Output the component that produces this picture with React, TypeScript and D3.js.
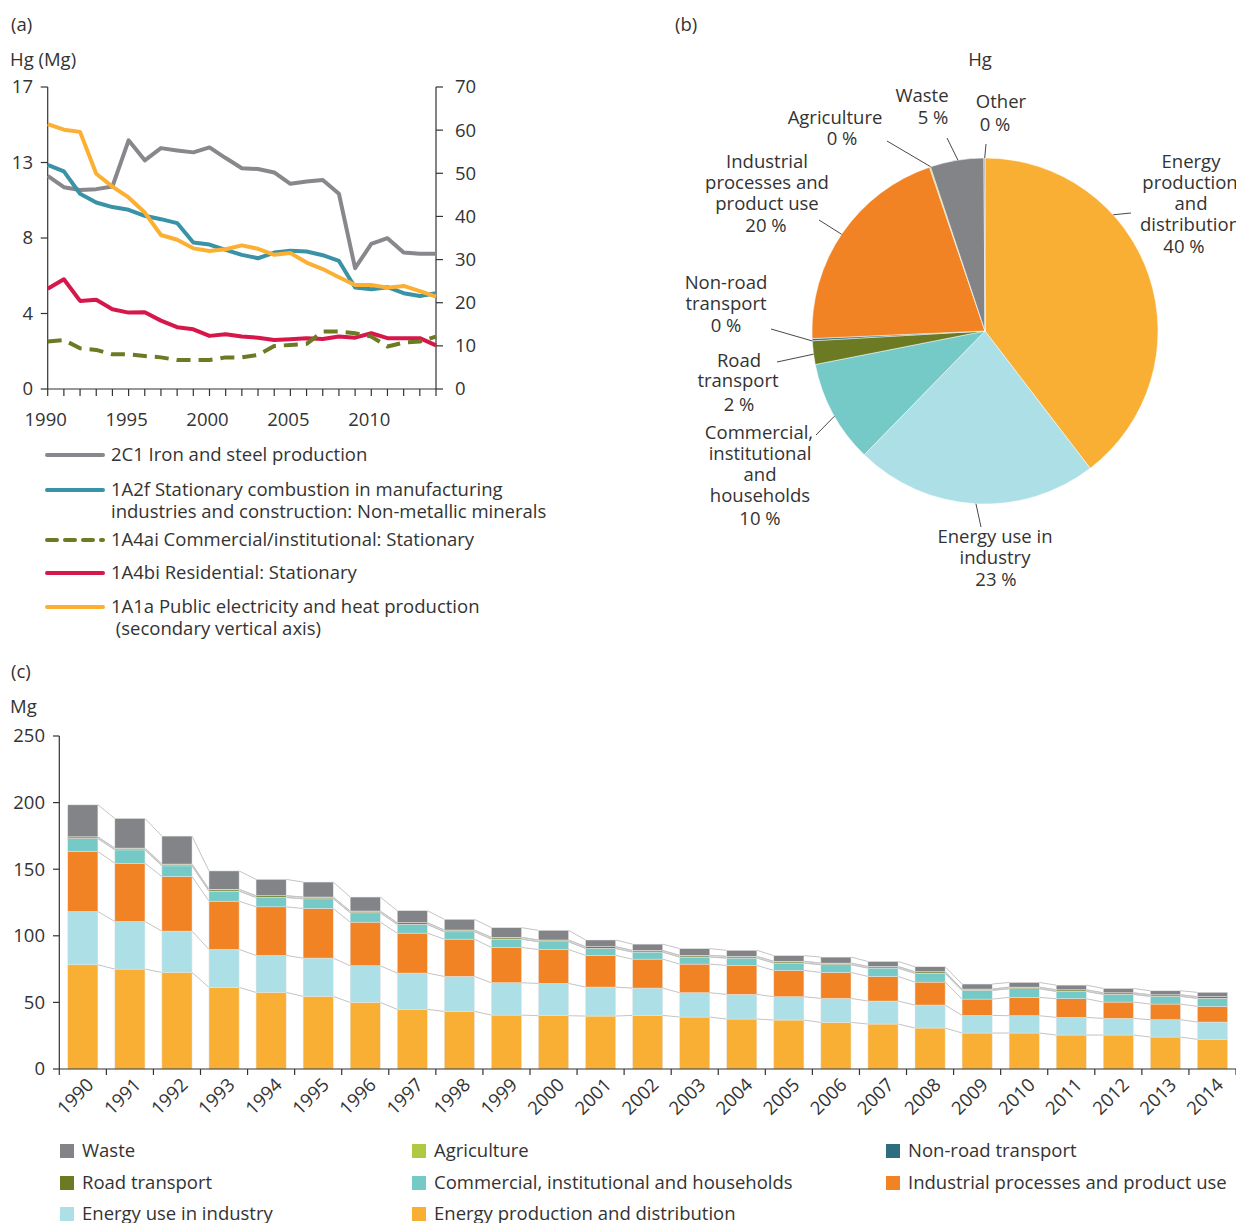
import React from 'react';
import * as d3 from 'd3';

// ---------- Panel (a) data ----------
const years = [1990, 1991, 1992, 1993, 1994, 1995, 1996, 1997, 1998, 1999, 2000, 2001, 2002, 2003, 2004, 2005, 2006, 2007, 2008, 2009, 2010, 2011, 2012, 2013, 2014];
const ironSteel = [12.0, 11.36, 11.2, 11.25, 11.4, 14.0, 12.87, 13.56, 13.43, 13.32, 13.6, 13.0, 12.43, 12.38, 12.19, 11.55, 11.68, 11.76, 10.99, 6.8, 8.17, 8.49, 7.68, 7.61, 7.61];
const nonMetallic = [12.62, 12.25, 10.99, 10.5, 10.24, 10.09, 9.75, 9.56, 9.34, 8.25, 8.13, 7.83, 7.55, 7.36, 7.68, 7.78, 7.74, 7.53, 7.21, 5.71, 5.62, 5.73, 5.39, 5.24, 5.39];
const commercialInst = [2.67, 2.76, 2.29, 2.2, 1.95, 1.95, 1.86, 1.78, 1.63, 1.63, 1.63, 1.78, 1.78, 1.92, 2.42, 2.48, 2.54, 3.23, 3.23, 3.14, 2.95, 2.39, 2.61, 2.67, 2.95];
const residential = [5.64, 6.18, 4.96, 5.02, 4.49, 4.3, 4.32, 3.85, 3.48, 3.36, 2.99, 3.08, 2.95, 2.89, 2.76, 2.8, 2.86, 2.82, 2.95, 2.89, 3.14, 2.86, 2.86, 2.86, 2.46];
const publicElec = [61.4, 60.1, 59.6, 49.9, 46.9, 44.4, 40.9, 35.7, 34.6, 32.6, 32.0, 32.4, 33.3, 32.5, 31.1, 31.5, 29.3, 27.8, 25.9, 24.1, 24.1, 23.5, 23.9, 22.7, 21.4];
const leftTicks = [0, 4.25, 8.5, 12.75, 17];
const leftTickLabels = ['0', '4', '8', '13', '17'];
const rightTicks = [0, 10, 20, 30, 40, 50, 60, 70];
const yearLabelsA = [1990, 1995, 2000, 2005, 2010];

// ---------- Panel (b) data ----------
const pieNames = ['Energy production and distribution', 'Energy use in industry', 'Commercial, institutional and households', 'Road transport', 'Non-road transport', 'Industrial processes and product use', 'Agriculture', 'Waste', 'Other'];
const pieValues = [39.6, 22.7, 9.6, 2.2, 0.2, 20.5, 0.1, 5.0, 0.1];

// ---------- Panel (c) data ----------
const energyProd = [78.25, 75, 72.5, 61.25, 57.5, 54.5, 50, 44.75, 43.25, 40.5, 40, 39.75, 40.25, 39, 37.5, 36.75, 35, 33.75, 30.75, 27, 27, 25.5, 25.5, 24, 22.25];
const energyUse = [40, 35.75, 31, 28.5, 27.75, 28.75, 27.5, 27.25, 26.25, 24.25, 24.25, 21.75, 20.5, 18.25, 18.5, 17.5, 18, 17.25, 17.25, 13.25, 13, 13.25, 12.5, 13, 13];
const industrialProc = [45, 43.75, 41, 36.25, 36.5, 37.25, 32.75, 30, 28, 26.5, 25.5, 23.75, 21.75, 21.5, 21.75, 19.75, 19.5, 18.5, 17.25, 12.25, 13.75, 14, 12.25, 11.75, 11.75];
const commercialHH = [9.7, 10, 8, 7.5, 7, 7.25, 7, 6.5, 5.5, 6.25, 5.75, 5.25, 5.25, 5.25, 5.5, 5.5, 5.75, 6.25, 6.5, 6.5, 6.5, 5.5, 5.75, 5.75, 6];
const nonRoad = [0.15, 0.15, 0.15, 0.15, 0.15, 0.15, 0.15, 0.15, 0.15, 0.15, 0.15, 0.15, 0.15, 0.15, 0.15, 0.15, 0.15, 0.15, 0.15, 0.12, 0.12, 0.12, 0.12, 0.12, 0.12];
const roadTransport = [1.1, 1.1, 1.1, 1.2, 1.1, 1.1, 1.1, 1.1, 1.1, 1.1, 1.1, 1.1, 1.0, 1.1, 1.1, 1.1, 1.0, 1.0, 1.0, 0.8, 1.0, 1.0, 1.0, 1.0, 1.1];
const agriculture = [0.1, 0.1, 0.1, 0.1, 0.1, 0.1, 0.1, 0.1, 0.1, 0.1, 0.1, 0.1, 0.1, 0.1, 0.1, 0.1, 0.1, 0.1, 0.1, 0.1, 0.1, 0.1, 0.1, 0.1, 0.1];
const waste = [24, 22.25, 21, 13.75, 12.25, 11.25, 10.5, 9, 8, 7.25, 7.25, 5, 4.75, 5, 4.5, 4.25, 4.5, 3.75, 3.75, 3.75, 3.5, 3.5, 3.25, 3, 3.25];
const barTicks = [0, 50, 100, 150, 200, 250];

const C = {
  energyProd: '#F9AF34',
  energyUse: '#ADDFE7',
  industrial: '#F28325',
  commercial: '#75C9C6',
  nonRoad: '#2C6E80',
  road: '#6B7A23',
  agriculture: '#B0C943',
  waste: '#838488',
  other: '#9a9a9a',
};

const FONT = '"Open Sans", "Noto Sans", sans-serif';
const TXT = '#333';
const FS = 18.5;

export default function App() {
  // ===== Panel (a) =====
  const xA = d3.scaleLinear().domain([1990, 2014]).range([47.7, 436]);
  const yL = d3.scaleLinear().domain([0, 17]).range([389, 87]);
  const yR = d3.scaleLinear().domain([0, 70]).range([389, 87]);
  const mkLine = (vals: number[], ys: d3.ScaleLinear<number, number>) =>
    d3.line<number>().x((_, i) => xA(years[i])).y((v) => ys(v))(vals) || '';

  const seriesA = [
    { vals: ironSteel, color: '#88888C', scale: yL, dash: undefined },
    { vals: nonMetallic, color: '#3A92A7', scale: yL, dash: undefined },
    { vals: publicElec, color: '#FBB034', scale: yR, dash: undefined },
    { vals: residential, color: '#D6174A', scale: yL, dash: undefined },
    { vals: commercialInst, color: '#6B7A23', scale: yL, dash: '14 8' },
  ];
  const legendA = [
    { y: 455, color: '#88888C', dash: undefined, lines: ['2C1 Iron and steel production'] },
    { y: 490, color: '#3A92A7', dash: undefined, lines: ['1A2f Stationary combustion in manufacturing', 'industries and construction: Non-metallic minerals'] },
    { y: 540, color: '#6B7A23', dash: '10 8', lines: ['1A4ai Commercial/institutional: Stationary'] },
    { y: 573, color: '#D6174A', dash: undefined, lines: ['1A4bi Residential: Stationary'] },
    { y: 607, color: '#FBB034', dash: undefined, lines: ['1A1a Public electricity and heat production', ' (secondary vertical axis)'] },
  ];

  // ===== Panel (b) =====
  const cx = 985, cy = 331, R = 173;
  const pieColors = [C.energyProd, C.energyUse, C.commercial, C.road, C.nonRoad, C.industrial, C.agriculture, C.waste, C.other];
  const pieGen = d3.pie<number>().sort(null).value((d) => d);
  const arcs = pieGen(pieValues);
  const arcGen = d3.arc<d3.PieArcDatum<number>>().innerRadius(0).outerRadius(R);
  const deg = Math.PI / 180;
  const polar = (a: number, r: number) => [cx + r * Math.sin(a * deg), cy - r * Math.cos(a * deg)];
  // label layout (positions only)
  const pieLabelLayout = [
    { angle: 47.8, end: [1131, 213], lines: [['Energy', 1191, 162], ['production', 1190, 183], ['and', 1191, 204], ['distribution', 1190, 225], ['40 %', 1184, 247]] },
    { angle: 183, end: [981, 527], lines: [['Energy use in', 995, 537], ['industry', 995, 558], ['23 %', 996, 580]] },
    { angle: 240.5, end: [816, 435], lines: [['Commercial,', 759, 433], ['institutional', 760, 454], ['and', 760, 475], ['households', 760, 496], ['10 %', 760, 519]] },
    { angle: 262.3, end: [777, 362], lines: [['Road', 739, 361], ['transport', 738, 381], ['2 %', 739, 405]] },
    { angle: 266.7, end: [771, 329], lines: [['Non-road', 726, 283], ['transport', 726, 304], ['0 %', 726, 326]] },
    { angle: 304, end: [819, 220], lines: [['Industrial', 767, 162], ['processes and', 767, 183], ['product use', 767, 204], ['20 %', 766, 226]] },
    { angle: 341.7, end: [887, 141], lines: [['Agriculture', 835, 118], ['0 %', 842, 139]] },
    { angle: 351, end: [947, 138], lines: [['Waste', 922, 96], ['5 %', 933, 118]] },
    { angle: 359.9, end: [986, 144], lines: [['Other', 1001, 102], ['0 %', 995, 125]] },
  ];

  // ===== Panel (c) =====
  const keys = ['energyProd', 'energyUse', 'industrial', 'commercial', 'nonRoad', 'road', 'agriculture', 'waste'];
  const seriesArrays: Record<string, number[]> = {
    energyProd, energyUse, industrial: industrialProc, commercial: commercialHH, nonRoad, road: roadTransport, agriculture, waste,
  };
  const table = years.map((y, i) => {
    const row: any = { year: y };
    keys.forEach((k) => (row[k] = seriesArrays[k][i]));
    return row;
  });
  const stacked = d3.stack<any>().keys(keys)(table);
  const xB = d3.scaleBand<number>().domain(years).range([59.3, 1236]).paddingInner(0.36).paddingOuter(0.18);
  const yB = d3.scaleLinear().domain([0, 250]).range([1069, 736]);
  const bw = xB.bandwidth();
  const step = xB.step();
  const boundaries = years.map((y) => (xB(y) as number) - 0.18 * step).concat([(xB(2014) as number) + bw + 0.18 * step]);

  const legendC = [
    { name: 'Waste', color: C.waste, x: 60, y: 1151 },
    { name: 'Agriculture', color: C.agriculture, x: 412, y: 1151 },
    { name: 'Non-road transport', color: C.nonRoad, x: 886, y: 1151 },
    { name: 'Road transport', color: C.road, x: 60, y: 1183 },
    { name: 'Commercial, institutional and households', color: C.commercial, x: 412, y: 1183 },
    { name: 'Industrial processes and product use', color: C.industrial, x: 886, y: 1183 },
    { name: 'Energy use in industry', color: C.energyUse, x: 60, y: 1214 },
    { name: 'Energy production and distribution', color: C.energyProd, x: 412, y: 1214 },
  ];

  return (
    <svg width={1236} height={1223} style={{ position: 'absolute', left: 0, top: 0, display: 'block', background: '#fff' }} fontFamily={FONT} fill={TXT}>
      {/* ===== Panel (a) ===== */}
      <text x={11} y={25} dy="0.35em" fontSize={FS}>(a)</text>
      <text x={10} y={60} dy="0.35em" fontSize={FS}>Hg (Mg)</text>
      <g stroke="#333" strokeWidth={1.2} fill="none">
        <line x1={xA(1990)} x2={xA(1990)} y1={87} y2={389} />
        <line x1={xA(2014)} x2={xA(2014)} y1={87} y2={389} />
        <line x1={xA(1990)} x2={xA(2014)} y1={389} y2={389} />
        {leftTicks.map((t) => <line key={'lt' + t} x1={xA(1990) - 7} x2={xA(1990)} y1={yL(t)} y2={yL(t)} />)}
        {rightTicks.map((t) => <line key={'rt' + t} x1={xA(2014)} x2={xA(2014) + 7} y1={yR(t)} y2={yR(t)} />)}
        {years.map((y) => <line key={'bt' + y} x1={xA(y)} x2={xA(y)} y1={389} y2={396} />)}
      </g>
      {leftTicks.map((t, i) => (
        <text key={'ltl' + t} x={33} y={yL(t)} dy="0.35em" fontSize={FS} textAnchor="end">{leftTickLabels[i]}</text>
      ))}
      {rightTicks.map((t) => (
        <text key={'rtl' + t} x={455} y={yR(t)} dy="0.35em" fontSize={FS}>{t}</text>
      ))}
      {yearLabelsA.map((y) => (
        <text key={'yl' + y} x={xA(y) - 2} y={420} dy="0.35em" fontSize={FS} textAnchor="middle">{y}</text>
      ))}
      {seriesA.map((s, i) => (
        <path key={'sa' + i} d={mkLine(s.vals, s.scale)} fill="none" stroke={s.color} strokeWidth={4} strokeDasharray={s.dash} strokeLinejoin="round" />
      ))}
      {legendA.map((l, i) => (
        <g key={'la' + i}>
          <line x1={47} x2={103} y1={l.y} y2={l.y} stroke={l.color} strokeWidth={4} strokeDasharray={l.dash} strokeLinecap="round" />
          {l.lines.map((t, j) => (
            <text key={j} x={111} y={l.y + j * 21.5} dy="0.35em" fontSize={FS} style={{ whiteSpace: 'pre' }}>{t}</text>
          ))}
        </g>
      ))}

      {/* ===== Panel (b) ===== */}
      <text x={675} y={25} dy="0.35em" fontSize={FS}>(b)</text>
      <text x={980} y={60} dy="0.35em" fontSize={FS} textAnchor="middle">Hg</text>
      <g transform={`translate(${cx},${cy})`}>
        {arcs.map((a, i) => (
          <path key={'arc' + i} d={arcGen(a) || ''} fill={pieColors[i]} stroke="#fff" strokeWidth={0.5} />
        ))}
      </g>
      {pieLabelLayout.map((p, i) => {
        const s = polar(p.angle, R);
        return (
          <g key={'pl' + i}>
            <line x1={s[0]} y1={s[1]} x2={p.end[0]} y2={p.end[1]} stroke="#333" strokeWidth={0.9} />
            {p.lines.map((ln: any, j: number) => (
              <text key={j} x={ln[1]} y={ln[2]} dy="0.35em" fontSize={FS} textAnchor="middle">{ln[0]}</text>
            ))}
          </g>
        );
      })}

      {/* ===== Panel (c) ===== */}
      <text x={11} y={672} dy="0.35em" fontSize={FS}>(c)</text>
      <text x={10} y={707} dy="0.35em" fontSize={FS}>Mg</text>
      {/* series lines */}
      <g stroke="#c4c4c4" strokeWidth={1} fill="none">
        {stacked.map((layer) =>
          layer.slice(0, -1).map((d, i) => (
            <line key={layer.key + 'sl' + i}
              x1={(xB(years[i]) as number) + bw} y1={yB(d[1])}
              x2={xB(years[i + 1]) as number} y2={yB(layer[i + 1][1])} />
          ))
        )}
      </g>
      {stacked.map((layer) => (
        <g key={'bars' + layer.key} fill={(C as any)[layer.key]}>
          {layer.map((d, i) => (
            <rect key={i} x={xB(years[i]) as number} width={bw} y={yB(d[1])} height={Math.max(0, yB(d[0]) - yB(d[1]))} stroke="#e6e6e6" strokeWidth={0.5} />
          ))}
        </g>
      ))}
      <g stroke="#333" strokeWidth={1.2} fill="none">
        <line x1={59.3} x2={59.3} y1={736} y2={1069} />
        <line x1={59.3} x2={1236} y1={1069} y2={1069} />
        {barTicks.map((t) => <line key={'bct' + t} x1={53} x2={59.3} y1={yB(t)} y2={yB(t)} />)}
        {boundaries.map((b, i) => <line key={'bb' + i} x1={b} x2={b} y1={1069} y2={1075} />)}
      </g>
      {barTicks.map((t) => (
        <text key={'bctl' + t} x={45} y={yB(t)} dy="0.35em" fontSize={FS} textAnchor="end">{t}</text>
      ))}
      {years.map((y) => (
        <text key={'byl' + y} transform={`translate(${(xB(y) as number) + bw / 2 + 12},${1086}) rotate(-45)`} fontSize={FS} textAnchor="end">{y}</text>
      ))}
      {legendC.map((l) => (
        <g key={'lc' + l.name}>
          <rect x={l.x} y={l.y - 7} width={14} height={14} fill={l.color} />
          <text x={l.x + 22} y={l.y} dy="0.35em" fontSize={FS}>{l.name}</text>
        </g>
      ))}
    </svg>
  );
}
